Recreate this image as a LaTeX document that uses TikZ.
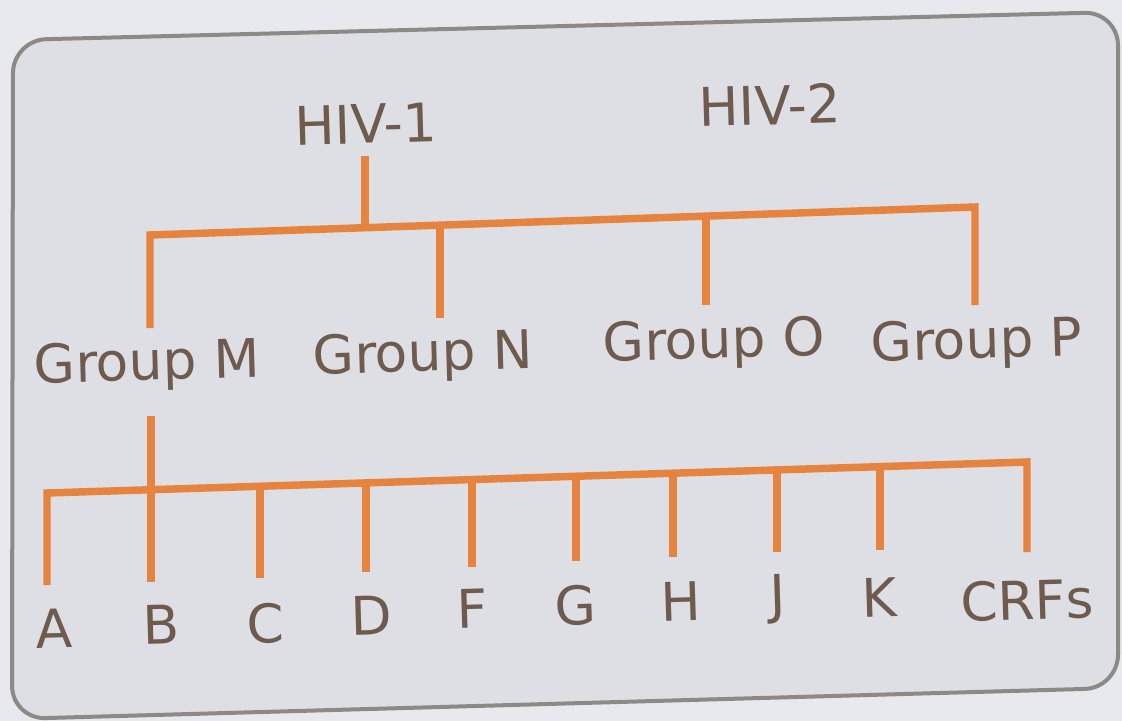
\documentclass[tikz,border=0pt]{standalone}
\usepackage{fontspec}
\setmainfont{DejaVu Sans}
\definecolor{paper}{HTML}{E8E9EE}
\definecolor{panel}{HTML}{DEDFE5}
\definecolor{rim}{HTML}{8C8A84}
\definecolor{branchc}{HTML}{E6833F}
\definecolor{inkc}{HTML}{6E5B4D}
\tikzset{
  frame/.style={draw=rim, line width=3pt, fill=panel, rounded corners=25pt},
  branch/.style={draw=branchc, line width=5.6pt, line join=miter},
  label/.style={text=inkc, inner sep=0pt, rotate=1.7,
    font=\fontsize{40}{46}\selectfont}
}
\begin{document}
\begin{tikzpicture}[x=0.75pt, y=-0.75pt]
% canvas and bordered panel
\fill[paper] (0,0) rectangle (1122,721);
\useasboundingbox (0,0) rectangle (1122,721);
\path[frame] (13,40) -- (1118,12) -- (1118,688) -- (12,719) -- cycle;

% labels
\node[label] (hiv1) at (366,124) {HIV-1};
\node[label] (hiv2) at (770,105) {HIV-2};
\node[label] (gM) at (147,366) {Group M};
\node[label] (gN) at (423,357) {Group N};
\node[label] (gO) at (714,344) {Group O};
\node[label] (gP) at (977,344) {Group P};
\node[label] (sA) at (54,629) {A};
\node[label] (sB) at (161,625) {B};
\node[label] (sC) at (266,624) {C};
\node[label] (sD) at (371,615) {D};
\node[label] (sF) at (472,609) {F};
\node[label] (sG) at (576,605) {G};
\node[label] (sH) at (681,601) {H};
\node[label] (sJ) at (778,599) {J};
\node[label] (sK) at (879,598) {K};
\node[label] (sCRF) at (1027,600) {CRFs};

% group-level tree
\coordinate (hiv1s) at (365,156);
\coordinate (tM) at (150,328);
\coordinate (tMj) at (150,235);
\coordinate (tPj) at (975,207);
\coordinate (tP) at (975,305);
\coordinate (tH) at (365,227.7);
\coordinate (tNj) at (440,225.2);
\coordinate (tN) at (440,318);
\coordinate (tOj) at (706,216.1);
\coordinate (tO) at (706,305);
\path[branch] (tM) -- (tMj) -- (tPj) -- (tP);
\path[branch] (hiv1s) -- (tH);
\path[branch] (tNj) -- (tN);
\path[branch] (tOj) -- (tO);

% subtype-level tree
\coordinate (gMs) at (151,416);
\coordinate (bA) at (47,585);
\coordinate (bAj) at (47,493);
\coordinate (bCRFj) at (1027,462);
\coordinate (bCRF) at (1027,552);
\coordinate (bBj) at (151,489.7);
\coordinate (bB) at (151,582);
\coordinate (bCj) at (260,486.3);
\coordinate (bC) at (260,578);
\coordinate (bDj) at (366,482.9);
\coordinate (bD) at (366,572);
\coordinate (bFj) at (472,479.6);
\coordinate (bF) at (472,567);
\coordinate (bGj) at (576,476.3);
\coordinate (bG) at (576,561);
\coordinate (bHj) at (673,473.2);
\coordinate (bH) at (673,557);
\coordinate (bJj) at (777,469.9);
\coordinate (bJ) at (777,552);
\coordinate (bKj) at (880,466.7);
\coordinate (bK) at (880,550);
\path[branch] (bA) -- (bAj) -- (bCRFj) -- (bCRF);
\path[branch] (gMs) -- (bBj);
\foreach \s in {B,C,D,F,G,H,J,K}
  \path[branch] (b\s j) -- (b\s);
\end{tikzpicture}
\end{document}
